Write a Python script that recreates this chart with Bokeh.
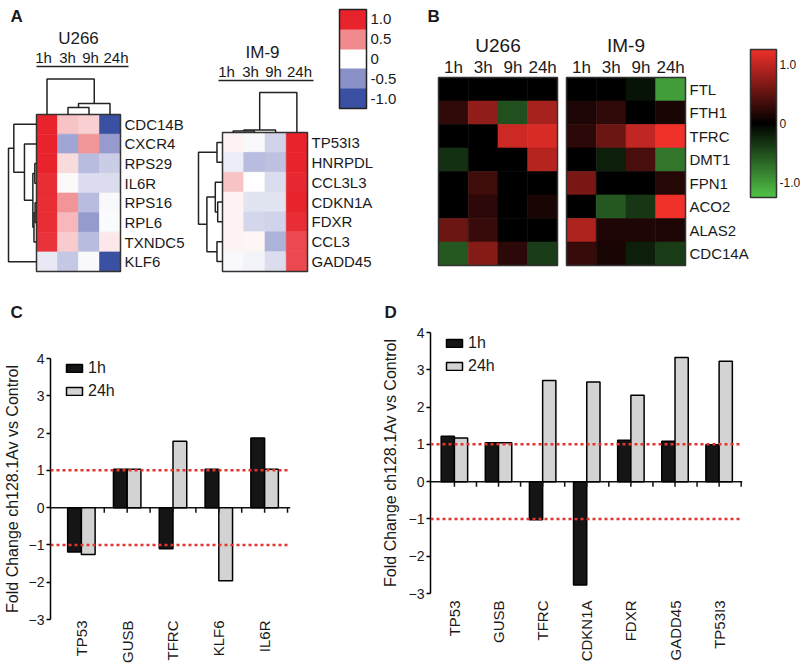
import numpy as np
from bokeh.plotting import figure
from bokeh.models import (Range1d, ColumnDataSource, LinearColorMapper, ColorBar,
                          FixedTicker, Span, Legend, LegendItem)
from bokeh.layouts import row, column
from bokeh.embed import file_html
from bokeh.resources import INLINE
from bokeh.core.properties import value
from bokeh.transform import dodge

FONT = "Liberation Sans"
INK = "#1a1a1a"

# ------------------------------------------------------------------ data
times = ["1h", "3h", "9h", "24h"]

# Panel A - U266 (blue -1 ... red +1)
a_u266_genes = ["CDC14B", "CXCR4", "RPS29", "IL6R", "RPS16", "RPL6", "TXNDC5", "KLF6"]
a_u266_1h = [1.00, 1.00, 1.00, 0.95, 0.95, 0.95, 0.92, -0.10]
a_u266_3h = [0.25, -0.40, 0.15, 0.03, 0.45, 0.30, 0.22, -0.25]
a_u266_9h = [0.20, 0.45, -0.30, -0.15, -0.30, -0.45, -0.30, -0.03]
a_u266_24h = [-1.00, -0.45, -0.22, -0.15, -0.03, -0.02, 0.10, -1.00]

# Panel A - IM-9
a_im9_genes = ["TP53I3", "HNRPDL", "CCL3L3", "CDKN1A", "FDXR", "CCL3", "GADD45"]
a_im9_1h = [0.05, -0.08, 0.25, 0.05, 0.05, 0.05, -0.03]
a_im9_3h = [-0.03, -0.30, 0.00, -0.12, -0.18, 0.04, -0.05]
a_im9_9h = [-0.20, -0.28, -0.15, -0.12, -0.20, -0.35, -0.15]
a_im9_24h = [1.00, 1.00, 0.97, 1.00, 0.95, 0.82, 0.82]

# dendrograms: (relative merge height, left, right); ints are leaf indices
a_u266_row_tree = (1.00, (0.81, 0, (0.43, 1, (0.13, (0.06, 2, 3), (0.09, (0.05, 4, 5), 6)))), 7)
a_u266_col_tree = (1.00, 0, (0.31, (0.20, 1, 2), 3))
a_im9_row_tree = (1.00, (0.23, 0, 1), (0.65, (0.30, 2, (0.20, 3, 4)), (0.23, 5, 6)))
a_im9_col_tree = (1.00, (0.06, (0.04, 0, 1), 2), 3)

# Panel B - iron genes (green -1 ... black 0 ... red +1)
b_genes = ["FTL", "FTH1", "TFRC", "DMT1", "FPN1", "ACO2", "ALAS2", "CDC14A"]
b_u266_1h = [0.0, 0.20, 0.0, -0.25, 0.0, 0.0, 0.45, -0.45]
b_u266_3h = [0.0, 0.60, 0.0, 0.0, 0.25, 0.18, 0.22, 0.55]
b_u266_9h = [0.0, -0.40, 0.85, 0.0, 0.0, 0.0, 0.0, 0.18]
b_u266_24h = [0.0, 0.70, 0.90, 0.75, 0.0, 0.10, 0.0, -0.30]
b_im9_1h = [0.0, 0.12, 0.18, 0.0, 0.50, 0.0, 0.72, 0.22]
b_im9_3h = [0.0, 0.20, 0.45, -0.15, 0.0, -0.45, 0.12, 0.10]
b_im9_9h = [-0.10, 0.0, 0.80, 0.30, 0.0, -0.28, 0.12, -0.15]
b_im9_24h = [-0.80, 0.10, 1.00, -0.60, 0.15, 1.00, 0.12, -0.30]

# Panels C / D - fold change
c_genes = ["TP53", "GUSB", "TFRC", "KLF6", "IL6R"]
c_1h = [-1.19, 1.03, -1.10, 1.03, 1.87]
c_24h = [-1.26, 1.03, 1.78, -1.96, 1.03]
d_genes = ["TP53", "GUSB", "TFRC", "CDKN1A", "FDXR", "GADD45", "TP53I3"]
d_1h = [1.22, 1.04, -1.02, -2.77, 1.11, 1.08, 0.99]
d_24h = [1.17, 1.04, 2.71, 2.67, 2.32, 3.33, 3.23]
fold_ticks = [-3, -2, -1, 0, 1, 2, 3, 4]
thresholds = [1, -1]
a_bar_ticks = [-1.0, -0.5, 0.0, 0.5, 1.0]
a_bar_labels = ["-1.0", "-0.5", "0", "0.5", "1.0"]
b_bar_ticks = [-1.0, 0.0, 1.0]
b_bar_labels = ["-1.0", "0", "1.0"]


# ------------------------------------------------------------------ helpers
def ramp(stops, n=256):
    rgb = [tuple(int(s[i:i + 2], 16) for i in (1, 3, 5)) for s in stops]
    out = []
    for k in range(n):
        t = k / (n - 1) * (len(rgb) - 1)
        i = min(int(t), len(rgb) - 2)
        f = t - i
        c = [round(rgb[i][j] + (rgb[i + 1][j] - rgb[i][j]) * f) for j in range(3)]
        out.append("#%02x%02x%02x" % tuple(c))
    return out


A_STOPS = ["#3a50a2", "#8a90c8", "#ffffff", "#f08a8e", "#e8232b"]
B_STOPS = ["#52c448", "#000000", "#f0302a"]
a_mapper = LinearColorMapper(palette=ramp(A_STOPS), low=-1, high=1)
b_mapper = LinearColorMapper(palette=ramp(B_STOPS), low=-1, high=1)


def txt(p, x, y, text, size, align="left", bold=False):
    p.text(x=x, y=y, text=text, text_align=align, text_baseline="middle",
           text_font=value(FONT), text_font_size=size, text_color=INK,
           text_font_style="bold" if bold else "normal")


def dendro_paths(tree):
    paths = []

    def walk(node):
        if isinstance(node, int):
            return node + 0.5, 0.0
        h, left, right = node
        pl, hl = walk(left)
        pr, hr = walk(right)
        paths.append(([pl, pl, pr, pr], [hl, h, h, hr]))
        return (pl + pr) / 2, h

    walk(tree)
    return paths


def heat_panel(fig_box, heat_box, genes, columns, mapper, show_genes=True, gene_size="15px"):
    fx, fy, fw, fh = fig_box
    hx0, hy0, hx1, hy1 = heat_box
    nr, nc = len(genes), len(columns)
    cw = (hx1 - hx0) / nc
    rh = (hy1 - hy0) / nr
    p = figure(width=fw, height=fh,
               x_range=Range1d((fx - hx0) / cw, (fx + fw - hx0) / cw),
               y_range=Range1d((fy + fh - hy0) / rh, (fy - hy0) / rh),
               x_axis_type=None, y_axis_type=None, output_backend="svg",
               toolbar_location=None, min_border=0)
    p.outline_line_color = None
    xs, ys, vs = [], [], []
    for j, col in enumerate(columns):
        for i, v in enumerate(col):
            xs.append(j + 0.5)
            ys.append(i + 0.5)
            vs.append(v)
    src = ColumnDataSource(dict(x=xs, y=ys, v=vs))
    cmap = {"field": "v", "transform": mapper}
    p.rect("x", "y", 1, 1, source=src, fill_color=cmap, line_color=cmap, line_width=0.6)
    p.quad(left=0, right=nc, top=0, bottom=nr, fill_color=None,
           line_color="#333333", line_width=1.5)
    if show_genes:
        p.text(x=[nc] * nr, y=[i + 0.5 for i in range(nr)], text=genes, x_offset=4,
               text_baseline="middle", text_font=value(FONT), text_font_size=gene_size,
               text_color=INK)
    px = lambda x: (x - hx0) / cw
    py = lambda y: (y - hy0) / rh
    return p, px, py, cw, rh


def add_dendros(p, row_tree, col_tree, row_depth_px, col_depth_px, cw, rh):
    xs, ys = [], []
    for pos, h in dendro_paths(row_tree):
        xs.append([-v * row_depth_px / cw for v in h])
        ys.append(pos)
    for pos, h in dendro_paths(col_tree):
        xs.append(pos)
        ys.append([-v * col_depth_px / rh for v in h])
    p.multi_line(xs, ys, line_color="#222222", line_width=1.5)


TOP_H = 326
BOT_H = 340
SPLIT = 378          # x where panel C meets panel D

# ------------------------------------------------------------------ panel A
pA1, px, py, cw, rh = heat_panel((0, 0, 190, TOP_H), (36, 114, 120, 271), a_u266_genes,
                                 [a_u266_1h, a_u266_3h, a_u266_9h, a_u266_24h], a_mapper)
add_dendros(pA1, a_u266_row_tree, a_u266_col_tree, 28, 35.5, cw, rh)
txt(pA1, [px(10)], [py(16)], ["A"], "17px", bold=True)
txt(pA1, [px(10)], [py(312)], ["C"], "17px", bold=True)
txt(pA1, [px(78)], [py(38)], ["U266"], "17px", align="center")
txt(pA1, [px(x) for x in (43, 67, 90, 115.5)], [py(57)] * 4, times, "15px", align="center")
pA1.line([px(36), px(128)], [py(66), py(66)], line_color="#222222", line_width=1.5)

pA2, px, py, cw, rh = heat_panel((190, 0, 208, TOP_H), (222, 132, 307, 271),
                                 a_im9_genes, [a_im9_1h, a_im9_3h, a_im9_9h, a_im9_24h],
                                 a_mapper)
add_dendros(pA2, a_im9_row_tree, a_im9_col_tree, 24, 40, cw, rh)
txt(pA2, [px(262)], [py(52)], ["IM-9"], "17px", align="center")
txt(pA2, [px(x) for x in (226, 250, 273, 299)], [py(71)] * 4, times, "15px", align="center")
pA2.line([px(218), px(313)], [py(80), py(80)], line_color="#222222", line_width=1.5)
txt(pA2, [px(384)], [py(312)], ["D"], "17px", bold=True)

a_cb_mapper = LinearColorMapper(palette=list(A_STOPS), low=-1.25, high=1.25)
cbA = ColorBar(color_mapper=a_cb_mapper, ticker=FixedTicker(ticks=a_bar_ticks),
               major_label_overrides=dict(zip(a_bar_ticks, a_bar_labels)),
               width=27, height=99, location=(339 - 190, TOP_H - 108), padding=0,
               bar_line_color="#222222", bar_line_width=1.5, major_tick_line_color=None,
               label_standoff=4, major_label_text_font_size="15px",
               major_label_text_font=FONT, major_label_text_color=INK,
               border_line_color=None, background_fill_alpha=0)
pA2.add_layout(cbA)

# ------------------------------------------------------------------ panel B
pB1, px, py, cw, rh = heat_panel((398, 0, 164, TOP_H), (438, 77, 557, 265), b_genes,
                                 [b_u266_1h, b_u266_3h, b_u266_9h, b_u266_24h], b_mapper,
                                 show_genes=False)
txt(pB1, [px(427)], [py(16)], ["B"], "17px", bold=True)
txt(pB1, [2], [py(45)], ["U266"], "19px", align="center")
txt(pB1, [j + 0.5 for j in range(4)], [py(67)] * 4, times, "17px", align="center")

pB2, px, py, cw, rh = heat_panel((562, 0, 238, TOP_H), (566, 77, 685, 265), b_genes,
                                 [b_im9_1h, b_im9_3h, b_im9_9h, b_im9_24h], b_mapper,
                                 gene_size="15px")
txt(pB2, [2], [py(45)], ["IM-9"], "19px", align="center")
txt(pB2, [j + 0.5 for j in range(4)], [py(67)] * 4, times, "17px", align="center")

b_cb_mapper = LinearColorMapper(palette=ramp(B_STOPS), low=-1.25, high=1.25)
cbB = ColorBar(color_mapper=b_cb_mapper, ticker=FixedTicker(ticks=b_bar_ticks),
               major_label_overrides=dict(zip(b_bar_ticks, b_bar_labels)),
               width=26, height=148, location=(750 - 562, TOP_H - 197), padding=0,
               bar_line_color="#333333", bar_line_width=1.5, major_tick_line_color=None,
               label_standoff=3, major_label_text_font_size="12px",
               major_label_text_font=FONT, major_label_text_color=INK,
               border_line_color=None, background_fill_alpha=0)
pB2.add_layout(cbB)


# ------------------------------------------------------------------ panels C / D
def bar_panel(fig_w, fig_h, borders, x_start, x_end, genes, v1, v24,
              legend_xy, xlabel_standoff, ylabel_standoff):
    left, top, right, bottom = borders
    n = len(genes)
    src = ColumnDataSource(dict(x=list(range(n)), h1=v1, h24=v24))
    p = figure(width=fig_w, height=fig_h, x_range=Range1d(x_start, x_end),
               y_range=Range1d(-3, 4), output_backend="svg", toolbar_location=None,
               min_border_left=left, min_border_top=top, min_border_right=right,
               min_border_bottom=bottom)
    p.grid.visible = False
    p.outline_line_color = None
    r1 = p.vbar(x=dodge("x", -0.15), top="h1", bottom=0, width=0.3, source=src,
                fill_color="#151515", line_color="black", line_width=1.5)
    r2 = p.vbar(x=dodge("x", 0.15), top="h24", bottom=0, width=0.3, source=src,
                fill_color="#d3d3d3", line_color="black", line_width=1.5)
    # zero line with ticks at gene centres and group boundaries
    p.add_layout(Span(location=0, dimension="width", line_color="#111111", line_width=1.5,
                      level="underlay"))
    tick_x = sorted([i for i in range(n)] + [i + 0.5 for i in range(n)])
    p.ray(x=tick_x, y=[0] * len(tick_x), length=5, length_units="screen",
          angle=-np.pi / 2, line_color="#111111", line_width=1.5)
    for t in thresholds:
        p.add_layout(Span(location=t, dimension="width", line_color="#e3342f",
                          line_dash="3 3", line_width=2.5))

    ya = p.yaxis[0]
    ya.ticker = FixedTicker(ticks=fold_ticks)
    ya.minor_tick_line_color = None
    ya.minor_tick_out = 0
    ya.axis_line_width = 1.5
    ya.major_tick_line_width = 1.5
    ya.major_tick_out = 4
    ya.major_tick_in = 0
    ya.major_label_standoff = 2
    ya.major_label_text_font = FONT
    ya.major_label_text_font_size = "14px"
    ya.major_label_text_color = INK
    ya.axis_label = "Fold Change ch128.1Av vs Control"
    ya.axis_label_text_font = FONT
    ya.axis_label_text_font_size = "16px"
    ya.axis_label_text_font_style = "normal"
    ya.axis_label_text_color = INK
    ya.axis_label_standoff = ylabel_standoff

    xa = p.xaxis[0]
    xa.ticker = FixedTicker(ticks=list(range(n)))
    xa.major_label_overrides = {i: g for i, g in enumerate(genes)}
    xa.major_label_orientation = np.pi / 2
    xa.axis_line_color = None
    xa.major_tick_line_color = None
    xa.minor_tick_line_color = None
    xa.major_tick_out = 0
    xa.major_tick_in = 0
    xa.minor_tick_out = 0
    xa.minor_tick_in = 0
    xa.major_label_standoff = xlabel_standoff
    xa.major_label_text_font = FONT
    xa.major_label_text_font_size = "15px"
    xa.major_label_text_color = INK

    legend = Legend(items=[LegendItem(label=value("1h"), renderers=[r1]),
                           LegendItem(label=value("24h"), renderers=[r2])],
                    location=legend_xy, glyph_width=20, glyph_height=10, label_height=20,
                    spacing=3, padding=0, margin=0, border_line_color=None,
                    background_fill_alpha=0, label_text_font=FONT,
                    label_text_font_size="16px", label_standoff=4, label_text_color=INK)
    p.add_layout(legend)
    return p


# C: frame at page x 49..290, y 358..620 ; D: frame at page x 425..742, y 332..593
pC = bar_panel(SPLIT, BOT_H, (49, 358 - TOP_H, SPLIT - 290, TOP_H + BOT_H - 620),
               -0.674, 4.565, c_genes, c_1h, c_24h, (14, 620 - 359 - 43), 1, 5)
pD = bar_panel(800 - SPLIT, BOT_H, (425 - SPLIT, 332 - TOP_H, 800 - 742, TOP_H + BOT_H - 593),
               -0.542, 6.53, d_genes, d_1h, d_24h, (14, 593 - 333 - 43), 7, 7)

layout = column(row(pA1, pA2, pB1, pB2), row(column(pC), column(pD)))
open("out.html", "w").write(file_html(layout, INLINE))
